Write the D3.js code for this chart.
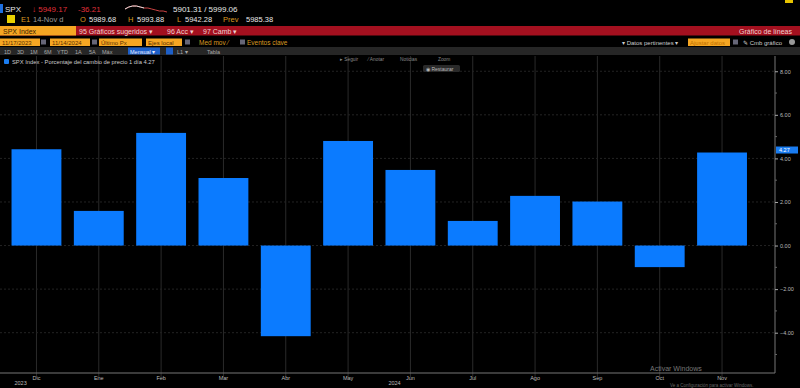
<!DOCTYPE html>
<html>
<head>
  <meta charset='utf-8'>
  <script src="https://d3js.org/d3.v7.min.js"></script>
  <style>
    body { margin: 0; background: #000; overflow: hidden; }
    svg { display: block; font-family: 'Liberation Sans', Arial, sans-serif; }
  </style>
</head>
<body>
<script type='text/javascript'>
  // Monthly % change of SPX (Dec 2023 - Nov 2024)
  var months = ['Dic', 'Ene', 'Feb', 'Mar', 'Abr', 'May', 'Jun', 'Jul', 'Ago', 'Sep', 'Oct', 'Nov'];
  var changes = [4.42, 1.59, 5.17, 3.10, -4.16, 4.80, 3.47, 1.13, 2.28, 2.02, -0.99, 4.27];
  var yTicks = [8, 6, 4, 2, 0, -2, -4];
  var yearLabels = [{month: 'Dic', year: '2023'}, {month: 'Jun', year: '2024'}];
  var lastValue = 4.27;

  var W = 800, H = 388;
  var svg = d3.select('body').append('svg').attr('width', W).attr('height', H);
  svg.append('rect').attr('width', W).attr('height', H).attr('fill', '#000');

  // ---- header (terminal bars) ----
  function txt(x, y, s, color, size, anchor) {
    return svg.append('text').attr('x', x).attr('y', y).text(s)
      .attr('fill', color).style('font-size', (size || 8) + 'px')
      .attr('text-anchor', anchor || 'start');
  }
  function box(x, y, w, h, color) {
    return svg.append('rect').attr('x', x).attr('y', y).attr('width', w).attr('height', h).attr('fill', color);
  }

  // row 1
  box(0, 4, 3, 9, '#1e6fe0');
  txt(5, 12, 'SPX', '#e8e8e8', 8);
  txt(32, 12, '\u2193 5949.17', '#e0303a', 8);
  txt(78, 12, '-36.21', '#e0303a', 8);
  var spark = [9, 7, 6, 6, 7, 8, 8, 9, 10, 11, 11, 12];
  var sx = d3.scaleLinear().domain([0, spark.length - 1]).range([125, 167]);
  svg.append('path').datum(spark)
    .attr('d', d3.line().x(function(d, i) { return sx(i); }).y(function(d) { return d; }))
    .attr('fill', 'none').attr('stroke', '#c44').attr('stroke-width', 1);
  svg.append('path').datum(spark.slice(0, 6))
    .attr('d', d3.line().x(function(d, i) { return sx(i); }).y(function(d) { return d; }))
    .attr('fill', 'none').attr('stroke', '#ddd').attr('stroke-width', 1);
  txt(173, 12, '5901.31 / 5999.06', '#e8e8e8', 8);
  box(785, 0, 8, 3, '#e8c400');

  // row 2
  box(7, 15, 8, 8, '#e8d000');
  txt(21, 22, 'E1', '#d89a20', 7.5);
  txt(33, 22, '14-Nov d', '#999', 7.5);
  var ohlc = [['O', 80, '5989.68', 89], ['H', 128, '5993.88', 137], ['L', 177, '5942.28', 185], ['Prev', 223, '5985.38', 246]];
  ohlc.forEach(function(o) {
    txt(o[1], 22, o[0], '#d89a20', 7.5);
    txt(o[3], 22, o[2], '#e8e8e8', 7.5);
  });

  // row 3 red bar
  box(0, 26, W, 9.5, '#a3101f');
  box(0, 26, 76, 9.5, '#f5a623');
  txt(3, 33.5, 'SPX Index', '#3a2000', 7);
  txt(79, 33.5, '95 Gr\u00e1ficos sugeridos \u25be', '#f0d0d0', 7);
  txt(167, 33.5, '96 Acc \u25be', '#f0d0d0', 7);
  txt(203, 33.5, '97 Camb \u25be', '#f0d0d0', 7);
  txt(792, 33.5, 'Gr\u00e1fico de l\u00edneas', '#f0d0d0', 7, 'end');

  // row 4 inputs
  [[0, 40, '11/17/2023'], [50, 40, '11/14/2024'], [99, 43, '\u00daltimo Px'], [146, 36, 'Ejes local']].forEach(function(b) {
    box(b[0], 38.5, b[1], 7.5, '#f5a623');
    txt(b[0] + 2, 44.5, b[2], '#5a3000', 6);
  });
  [41, 92, 185, 240].forEach(function(x) { box(x, 39.5, 5, 5, '#667'); });
  txt(199, 44.5, 'Med mov \u2044', '#d89a20', 6.5);
  txt(247, 44.5, 'Eventos clave', '#d89a20', 6.5);
  txt(622, 44.5, '\u25be Datos pertinentes \u25be', '#ccc', 6);
  box(688, 38.5, 42, 7.5, '#f5a623');
  txt(690, 44.5, 'Ajustar datos', '#c07000', 6);
  box(733, 39.5, 5, 5, '#667');
  txt(743, 44.5, '\u270e Cmb gr\u00e1fico', '#ccc', 6);
  svg.append('circle').attr('cx', 792).attr('cy', 42).attr('r', 3).attr('fill', '#999');

  // row 5 grey bar
  box(0, 47, W, 8, '#262626');
  var ranges = [['1D', 4], ['3D', 17], ['1M', 30], ['6M', 44], ['YTD', 57], ['1A', 75], ['5A', 89], ['M\u00e1x', 102]];
  ranges.forEach(function(r) { txt(r[1], 53.5, r[0], '#aaa', 5.5); });
  box(128, 47.5, 32, 7, '#1d5fc8');
  txt(130, 53.5, 'Mensual \u25be', '#e8eeff', 5.5);
  box(166, 47.5, 7, 7, '#1d5fc8');
  txt(177, 53.5, 'L1  \u25be', '#aaa', 5.5);
  txt(207, 53.5, 'Tabla', '#aaa', 5.5);

  // ---- chart ----
  var plot = {left: 5.3, right: 775, top: 56, bottom: 373};
  var x = d3.scaleBand().domain(months).range([5.3, 753.2]).paddingInner(0.2).paddingOuter(0.1);
  var y = d3.scaleLinear().domain([-5.85, 8.7]).range([plot.bottom, plot.top]);

  // gridlines
  svg.append('g').selectAll('line').data(months).join('line')
    .attr('x1', function(d) { return x(d) + x.bandwidth() / 2; })
    .attr('x2', function(d) { return x(d) + x.bandwidth() / 2; })
    .attr('y1', plot.top).attr('y2', plot.bottom + 4)
    .attr('stroke', '#2a2a2a').attr('stroke-width', 1);
  svg.append('g').selectAll('line').data(yTicks).join('line')
    .attr('x1', 0).attr('x2', plot.right)
    .attr('y1', function(d) { return y(d); }).attr('y2', function(d) { return y(d); })
    .attr('stroke', '#232323').attr('stroke-dasharray', '2,2');

  // bars
  svg.append('g').selectAll('rect').data(changes).join('rect')
    .attr('x', function(d, i) { return x(months[i]); })
    .attr('width', x.bandwidth())
    .attr('y', function(d) { return y(Math.max(0, d)); })
    .attr('height', function(d) { return Math.abs(y(d) - y(0)); })
    .attr('fill', '#0b7bff');

  // right axis
  var yAxis = d3.axisRight(y).tickValues(yTicks).tickFormat(d3.format('.2f')).tickSize(3).tickPadding(2);
  var ya = svg.append('g').attr('transform', 'translate(' + plot.right + ',0)').call(yAxis);
  ya.select('.domain').attr('stroke', '#777').attr('d', 'M0,' + plot.top + 'V' + plot.bottom);
  ya.selectAll('.tick line').attr('stroke', '#aaa');
  ya.selectAll('.tick text').attr('fill', '#bbb').style('font-size', '5.5px');
  // minor ticks
  var minor = d3.range(-5, 9, 1).filter(function(v) { return v % 2 !== 0; });
  svg.append('g').selectAll('line').data(minor).join('line')
    .attr('x1', plot.right).attr('x2', plot.right + 2)
    .attr('y1', function(d) { return y(d); }).attr('y2', function(d) { return y(d); })
    .attr('stroke', '#666');

  // last value tag
  var tag = svg.append('g').attr('transform', 'translate(' + (plot.right + 1) + ',' + y(lastValue) + ')');
  tag.append('rect').attr('x', 0).attr('y', -6).attr('width', 22).attr('height', 7).attr('fill', '#1a7cf0');
  tag.append('text').attr('x', 3).attr('y', -0.5).text(lastValue.toFixed(2)).attr('fill', '#fff').style('font-size', '5.5px');

  // bottom axis
  var xAxis = d3.axisBottom(x).tickSize(0).tickPadding(3);
  var xa = svg.append('g').attr('transform', 'translate(0,' + plot.bottom + ')').call(xAxis);
  xa.select('.domain').attr('stroke', '#777').attr('d', 'M0,0H' + plot.right);
  xa.selectAll('.tick text').attr('fill', '#bbb').style('font-size', '5.5px');
  yearLabels.forEach(function(l) {
    txt(x(l.month) + x.bandwidth() / 2 - 22, 385, l.year, '#bbb', 5.5);
  });

  // legend & chart buttons
  svg.append('rect').attr('x', 4).attr('y', 59).attr('width', 5).attr('height', 5).attr('rx', 1).attr('fill', '#1a7cf0');
  txt(12, 64, 'SPX Index - Porcentaje del cambio de precio 1 d\u00eda 4.27', '#ccc', 5.8);
  [['\u25b8 Seguir', 340], ['\u2044 Anotar', 368], ['Noticias', 400], ['Zoom', 438]].forEach(function(b) {
    txt(b[1], 60.5, b[0], '#888', 4.8);
  });
  box(423, 65, 37, 7, '#2a2a2a').attr('rx', 1.5);
  txt(426, 70.5, '\u25c9 Restaurar', '#bbb', 5);

  // watermark (kept clear of the month labels)
  txt(650, 371, 'Activar Windows', '#777', 7);
  txt(670, 387, 'Ve a Configuraci\u00f3n para activar Windows.', '#666', 4.5);
</script>
</body>
</html>
